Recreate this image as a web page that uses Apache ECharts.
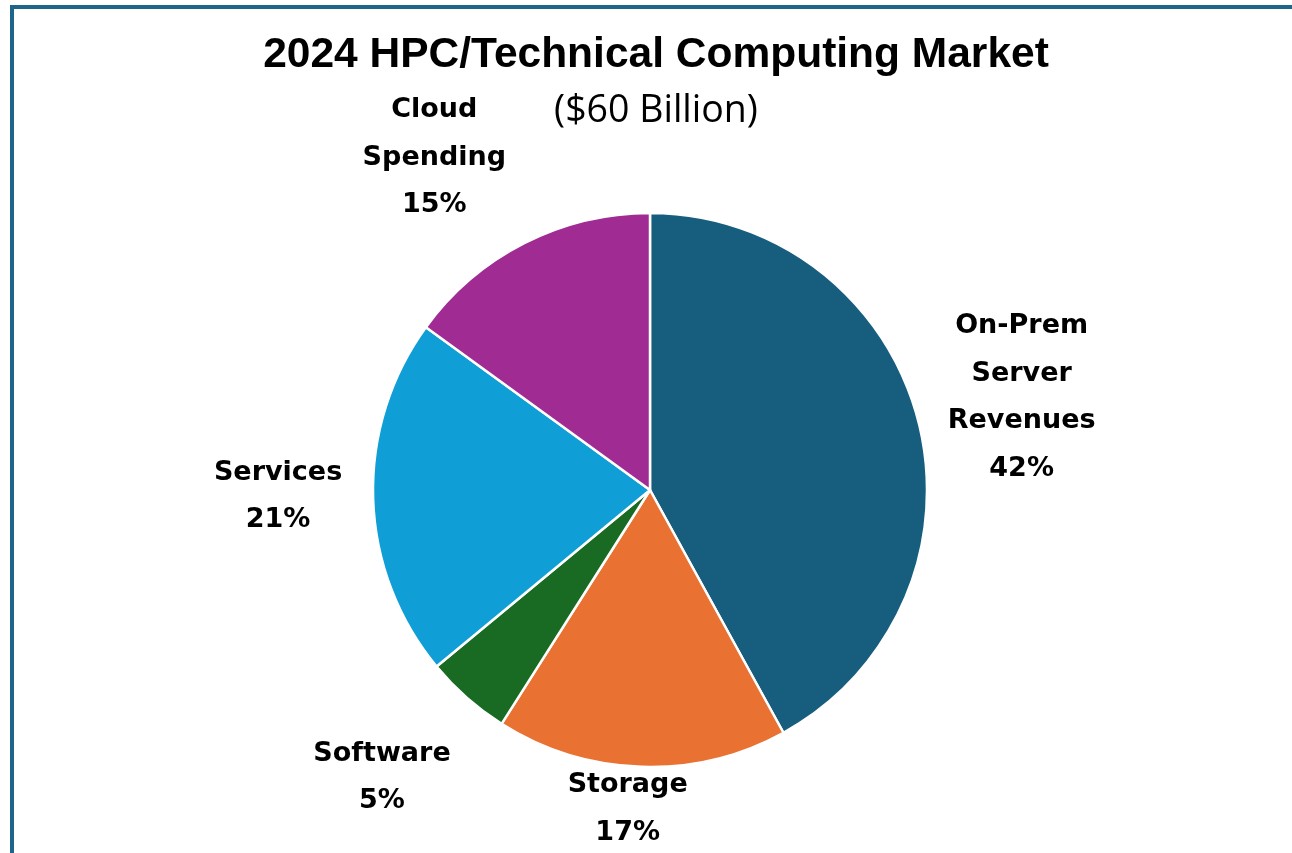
<!DOCTYPE html>
<html>
<head>
<meta charset="utf-8">
<title>2024 HPC/Technical Computing Market</title>
<script src="https://cdn.jsdelivr.net/npm/echarts@6/dist/echarts.min.js"></script>
<style>
  html, body { margin: 0; padding: 0; background: #ffffff; overflow: hidden; }
  #frame {
    position: absolute; left: 10px; top: 5px; width: 1400px; height: 1000px;
    border-left: 4px solid #1d6689; border-top: 4px solid #1d6689;
  }
  #chart { position: absolute; left: 0; top: 0; width: 1292px; height: 853px; }
</style>
</head>
<body>
<div id="frame"></div>
<div id="chart"></div>
<script>
// Market segments, in clockwise order from 12 o'clock
const segments = ['On-Prem\nServer\nRevenues', 'Storage', 'Software', 'Services', 'Cloud\nSpending'];
const shares = [42, 17, 5, 21, 15];           // percent of the $60B total
const colors = ['#175e7e', '#e97132', '#196b24', '#0f9ed5', '#a02b93'];

const titleText = '2024 HPC/Technical Computing Market';
const subtitleText = '($60 Billion)';

// Pie geometry (pixels)
const CX = 650, CY = 490, R = 277;
// Label placement: distance of the label centre from the pie centre and a small angular nudge (deg)
const labelDist = [383, 320, 393, 372, 396];
const labelNudge = [0.4, 2.2, 1.6, 0.8, -6];

const total = shares.reduce((a, b) => a + b, 0);
const midAngles = [];
let acc = 0;
shares.forEach(v => { midAngles.push((acc + v / 2) / total * 360); acc += v; });

const chart = echarts.init(document.getElementById('chart'), null, { renderer: 'canvas' });

chart.setOption({
  animation: false,
  color: colors,
  title: [
    {
      text: titleText, left: 656, top: 34, textAlign: 'center', padding: 0,
      textStyle: { fontFamily: 'Liberation Sans', fontWeight: 'bold', fontSize: 42.5, color: '#000' }
    },
    {
      text: subtitleText, left: 656, top: 92, textAlign: 'center', padding: 0,
      textStyle: { fontFamily: 'Open Sans', fontWeight: 'normal', fontSize: 37.5, color: '#000' }
    }
  ],
  series: [{
    type: 'pie',
    center: [CX, CY],
    radius: R,
    startAngle: 90,
    clockwise: true,
    avoidLabelOverlap: false,
    itemStyle: { borderColor: '#ffffff', borderWidth: 2.5 },
    label: {
      show: true,
      position: 'outside',
      formatter: p => p.name + '\n' + p.value + '%',
      fontFamily: 'DejaVu Sans',
      fontWeight: 'bold',
      fontSize: 27,
      lineHeight: 47.5,
      color: '#000',
      align: 'center'
    },
    labelLine: { show: false },
    labelLayout: function (params) {
      const i = params.dataIndex;
      const a = (midAngles[i] + labelNudge[i]) * Math.PI / 180;
      return {
        x: CX + labelDist[i] * Math.sin(a),
        y: CY - labelDist[i] * Math.cos(a),
        align: 'center',
        verticalAlign: 'middle'
      };
    },
    emphasis: { disabled: true },
    data: segments.map((n, i) => ({ name: n, value: shares[i] }))
  }]
});
</script>
</body>
</html>
